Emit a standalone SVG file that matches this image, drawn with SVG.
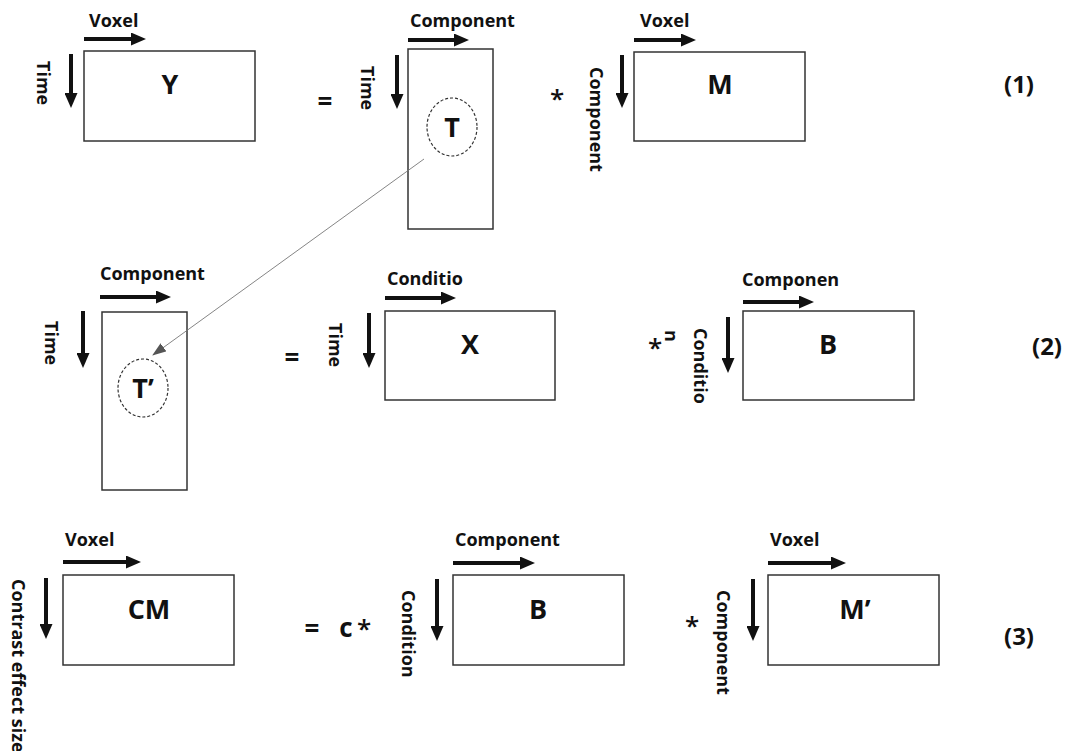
<svg xmlns="http://www.w3.org/2000/svg" width="1069" height="751" viewBox="0 0 1069 751">
<defs>
<style>
text{font-family:"Open Sans","Liberation Sans",sans-serif;font-weight:700;fill:#111}
.lbl{font-size:18px}
.big{font-size:27px;text-anchor:middle}
.num{font-size:24px}
.op{font-size:26px;text-anchor:middle}
.star{font-size:26px;text-anchor:middle;font-weight:600}
.box{fill:#fff;stroke:#333;stroke-width:1.5}
.oval{fill:none;stroke:#333;stroke-width:1.2;stroke-dasharray:3 2}
.ar{stroke:#111;stroke-width:4;fill:none}
.conn{stroke:#777;stroke-width:0.9;fill:none}
</style>
<marker id="ah" markerUnits="userSpaceOnUse" markerWidth="15" markerHeight="13" refX="2" refY="6.5" orient="auto" viewBox="0 0 15 13">
<path d="M0,0 L15,6.5 L0,13 z" fill="#111"/>
</marker>
<marker id="ch" markerUnits="userSpaceOnUse" markerWidth="14" markerHeight="10" refX="13" refY="5" orient="auto" viewBox="0 0 14 10">
<path d="M0,0 L14,5 L0,10 z" fill="#555"/>
</marker>
</defs>
<rect width="1069" height="751" fill="#fff"/>

<g id="row1-Y">
<text class="lbl" x="89" y="27">Voxel</text>
<line class="ar" x1="84" y1="39" x2="133" y2="39" marker-end="url(#ah)"/>
<line class="ar" x1="71" y1="54" x2="71" y2="95" marker-end="url(#ah)"/>
<text class="lbl" transform="translate(37,61) rotate(90)">Time</text>
<rect class="box" x="84" y="51" width="171" height="90"/>
<text class="big" x="170" y="94">Y</text>
</g>
<text id="eq1" class="op" x="325" y="111">=</text>

<g id="row1-T">
<text class="lbl" x="410" y="27">Component</text>
<line class="ar" x1="408" y1="40" x2="456" y2="40" marker-end="url(#ah)"/>
<line class="ar" x1="397" y1="55" x2="397" y2="96" marker-end="url(#ah)"/>
<text class="lbl" transform="translate(361,66) rotate(90)">Time</text>
<rect class="box" x="408" y="49" width="85" height="180"/>
<ellipse class="oval" cx="452" cy="127" rx="25" ry="29"/>
<text class="big" x="452" y="137">T</text>
</g>
<text id="star1" class="star" x="557" y="108">*</text>

<g id="row1-M">
<text class="lbl" x="640" y="27">Voxel</text>
<line class="ar" x1="634" y1="40" x2="683" y2="40" marker-end="url(#ah)"/>
<line class="ar" x1="622" y1="55" x2="622" y2="95" marker-end="url(#ah)"/>
<text class="lbl" transform="translate(590,67) rotate(90)">Component</text>
<rect class="box" x="634" y="52" width="171" height="89"/>
<text class="big" x="720" y="94">M</text>
</g>
<text id="n1" class="num" x="1004" y="93">(1)</text>

<g id="row2-Tp">
<text class="lbl" x="100" y="280">Component</text>
<line class="ar" x1="100" y1="297" x2="158" y2="297" marker-end="url(#ah)"/>
<line class="ar" x1="83" y1="311" x2="83" y2="355" marker-end="url(#ah)"/>
<text class="lbl" transform="translate(45,321) rotate(90)">Time</text>
<rect class="box" x="102" y="312" width="85" height="178"/>
<ellipse class="oval" cx="143" cy="388" rx="25" ry="29"/>
<text class="big" x="143" y="398">T’</text>
</g>
<text id="eq2" class="op" x="292" y="367">=</text>

<g id="row2-X">
<text class="lbl" x="387" y="285">Conditio</text>
<line class="ar" x1="385" y1="298" x2="443" y2="298" marker-end="url(#ah)"/>
<line class="ar" x1="369" y1="313" x2="369" y2="355" marker-end="url(#ah)"/>
<text class="lbl" transform="translate(329,323) rotate(90)">Time</text>
<rect class="box" x="385" y="311" width="170" height="89"/>
<text class="big" x="470" y="354">X</text>
</g>
<text id="star2" class="star" x="655" y="357">*</text>

<g id="row2-B">
<text class="lbl" x="742" y="286">Componen</text>
<line class="ar" x1="743" y1="302" x2="801" y2="302" marker-end="url(#ah)"/>
<line class="ar" x1="728" y1="317" x2="728" y2="360" marker-end="url(#ah)"/>
<text class="lbl" transform="translate(694,328) rotate(90)">Conditio</text>
<text class="lbl" transform="translate(665,330) rotate(90)">n</text>
<rect class="box" x="743" y="311" width="171" height="89"/>
<text class="big" x="828" y="354">B</text>
</g>
<text id="n2" class="num" x="1032" y="355">(2)</text>

<g id="row3-CM">
<text class="lbl" x="65" y="546">Voxel</text>
<line class="ar" x1="63" y1="562" x2="128" y2="562" marker-end="url(#ah)"/>
<line class="ar" x1="46" y1="578" x2="46" y2="626" marker-end="url(#ah)"/>
<text class="lbl" transform="translate(12,579) rotate(90)">Contrast effect size</text>
<rect class="box" x="63" y="575" width="171" height="90"/>
<text class="big" x="149" y="619">CM</text>
</g>
<text id="eq3" class="op" x="312" y="638">=</text>
<text id="c3" class="op" x="346" y="637">c</text>
<text id="star3" class="star" x="364" y="638">*</text>

<g id="row3-B">
<text class="lbl" x="455" y="546">Component</text>
<line class="ar" x1="453" y1="563" x2="522" y2="563" marker-end="url(#ah)"/>
<line class="ar" x1="437" y1="579" x2="437" y2="628" marker-end="url(#ah)"/>
<text class="lbl" transform="translate(402,590) rotate(90)">Condition</text>
<rect class="box" x="453" y="575" width="171" height="90"/>
<text class="big" x="538" y="619">B</text>
</g>
<text id="star4" class="star" x="692" y="635">*</text>

<g id="row3-Mp">
<text class="lbl" x="770" y="546">Voxel</text>
<line class="ar" x1="768" y1="563" x2="833" y2="563" marker-end="url(#ah)"/>
<line class="ar" x1="753" y1="579" x2="753" y2="628" marker-end="url(#ah)"/>
<text class="lbl" transform="translate(717,590) rotate(90)">Component</text>
<rect class="box" x="768" y="575" width="171" height="90"/>
<text class="big" x="855" y="619">M’</text>
</g>
<text id="n3" class="num" x="1004" y="645">(3)</text>

<g id="connectors">
<line class="conn" x1="424" y1="159" x2="153" y2="355" marker-end="url(#ch)"/>
</g>
</svg>
